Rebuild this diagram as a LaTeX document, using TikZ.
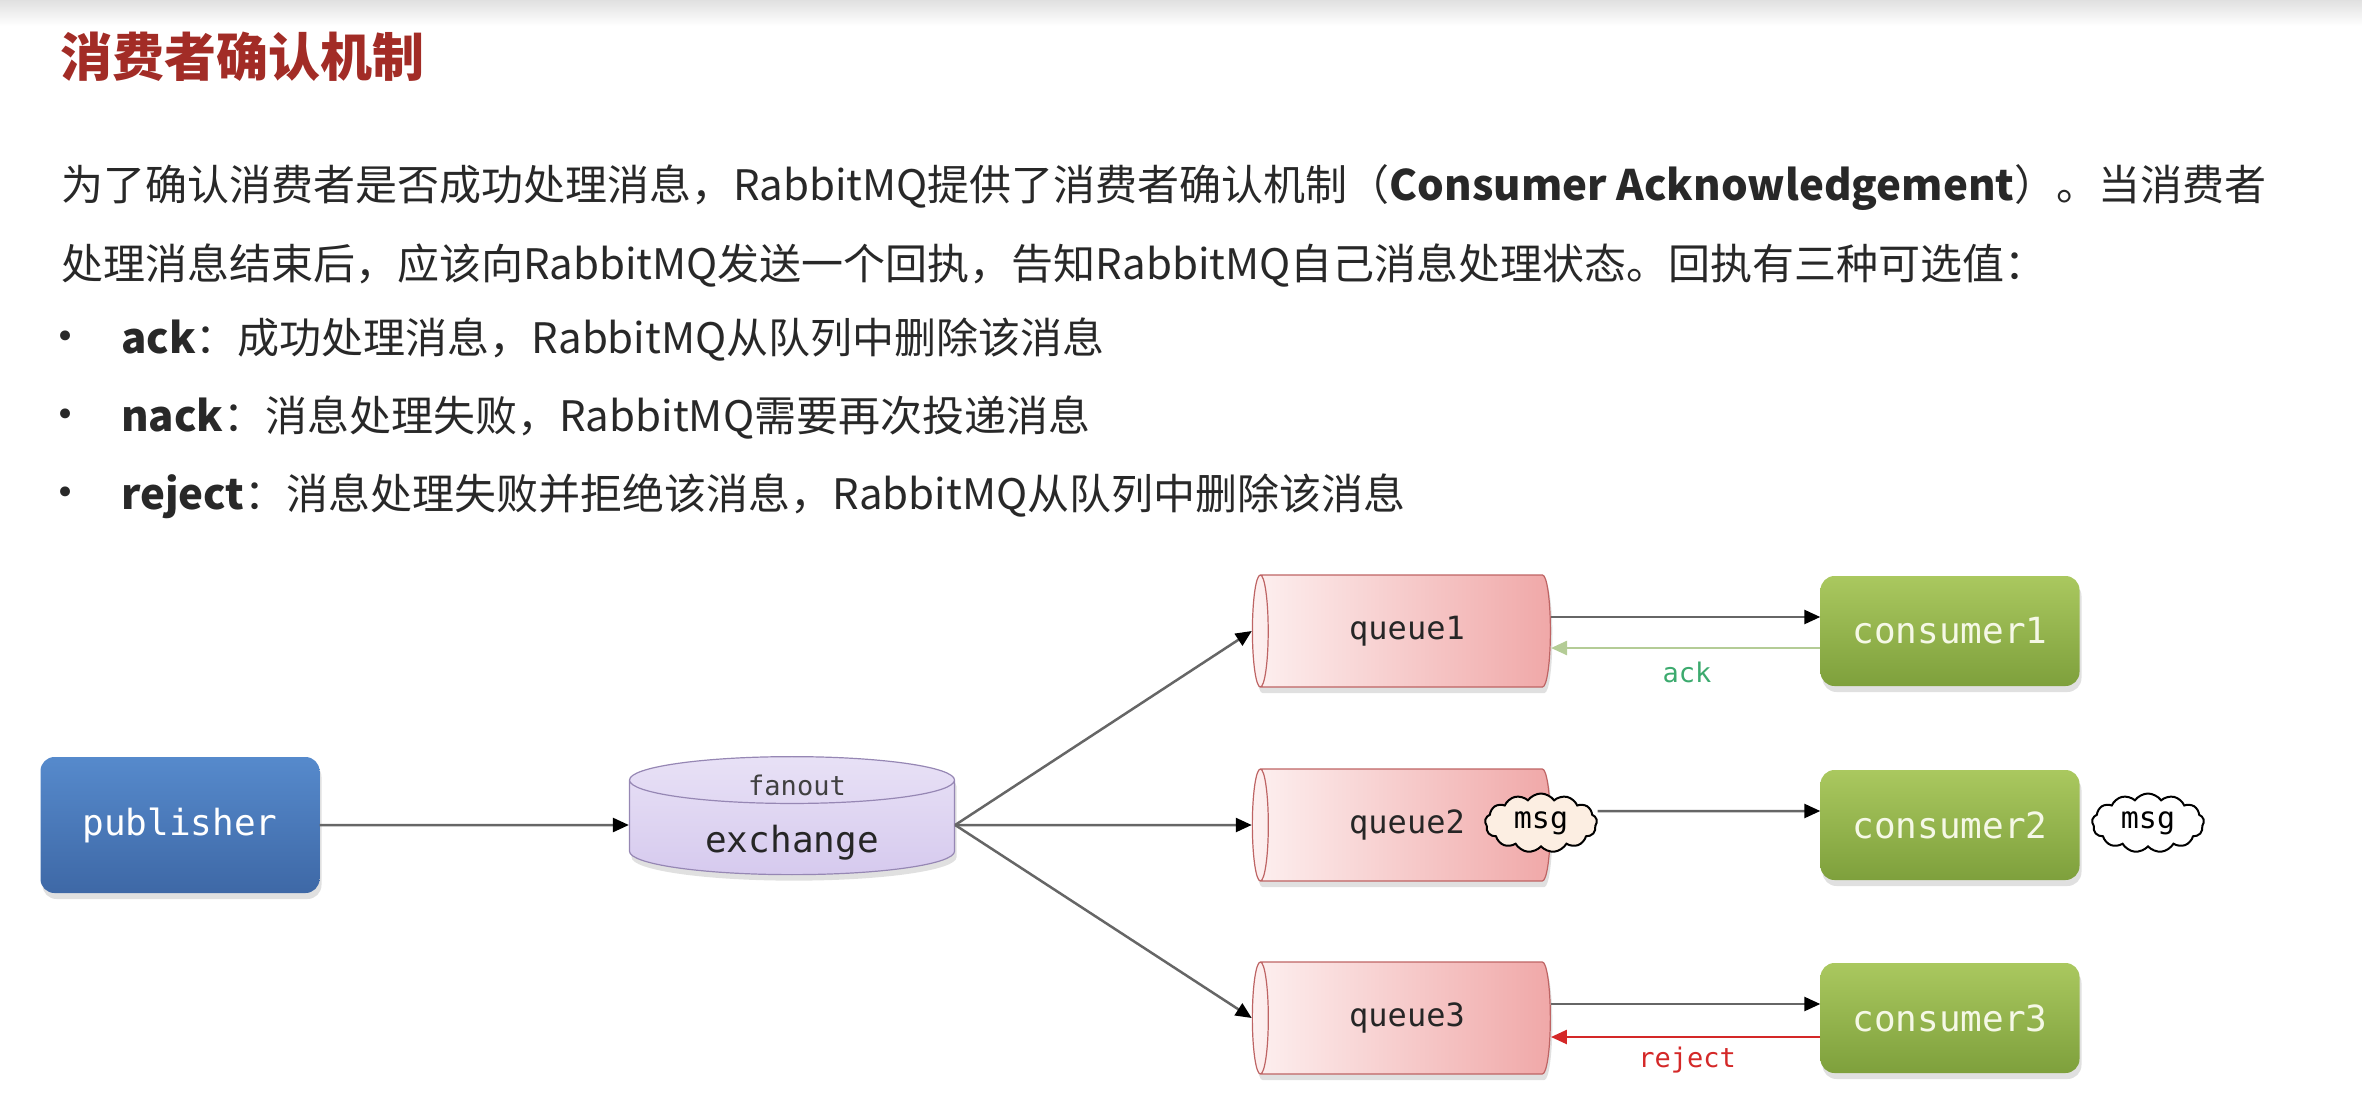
\documentclass[tikz,border=0pt]{standalone}
\usepackage{fontspec}
\setmainfont{Noto Sans CJK SC}
\setmonofont{DejaVu Sans Mono}
\newfontfamily\dotfont{DejaVu Sans}
\usetikzlibrary{shapes.geometric,shapes.symbols,shadows,arrows.meta}
\definecolor{titlered}{RGB}{162,44,38}
\definecolor{txt}{RGB}{40,40,40}
\definecolor{pubtop}{RGB}{86,138,204}
\definecolor{pubbot}{RGB}{62,104,166}
\definecolor{exfill}{RGB}{232,225,246}
\definecolor{exfilldark}{RGB}{214,202,238}
\definecolor{exline}{RGB}{150,135,180}
\definecolor{qleft}{RGB}{253,240,240}
\definecolor{qright}{RGB}{240,168,168}
\definecolor{qline}{RGB}{190,100,100}
\definecolor{contop}{RGB}{170,200,95}
\definecolor{conbot}{RGB}{126,160,60}
\definecolor{contxt}{RGB}{245,248,230}
\definecolor{ackgreen}{RGB}{180,204,150}
\definecolor{acktxt}{RGB}{60,170,110}
\definecolor{rejred}{RGB}{212,40,40}
\definecolor{msgfill}{RGB}{252,238,226}

\begin{document}
\begin{tikzpicture}[x=1pt,y=-1pt,
    txtline/.style={font=\fontsize{42}{50}\selectfont,text=txt,anchor=west,inner sep=0pt},
    dot/.style={font=\dotfont\fontsize{34}{40}\selectfont,text=txt,inner sep=0pt},
    shadowed/.style={drop shadow={shadow xshift=2pt,shadow yshift=-6pt,opacity=0.2,fill=black!60}},
    roundbox/.style={rectangle,rounded corners=14pt,minimum width=279pt,minimum height=136pt,shadowed,font=\ttfamily\fontsize{36}{40}\selectfont},
    queue/.style={cylinder,shape border rotate=180,aspect=0.43,minimum height=298pt,minimum width=112pt,draw=qline,line width=1.2pt,left color=qleft,right color=qright,shadowed,font=\ttfamily\fontsize{32}{36}\selectfont,text=black!85},
    consumer/.style={roundbox,minimum width=259pt,minimum height=110pt,top color=contop,bottom color=conbot,text=contxt},
    msg/.style={cloud,cloud puffs=13,cloud puff arc=110,aspect=1.9,minimum width=112pt,minimum height=59pt,inner sep=0pt,draw=black,line width=2pt,font=\ttfamily\fontsize{30}{34}\selectfont},
    flow/.style={line width=2.5pt,draw=black!60,-{Triangle[length=16pt,width=14pt,color=black]}},
    lbl/.style={font=\ttfamily\fontsize{27}{30}\selectfont}]
\useasboundingbox (0,0) rectangle (2362,1114);
\shade[top color=black!12,bottom color=white] (0,0) rectangle (2362,26);

\node[txtline,font=\bfseries\fontsize{52}{60}\selectfont,text=titlered] (title) at (60,57) {消费者确认机制};
\node[txtline] (p1) at (61,188) {为了确认消费者是否成功处理消息，RabbitMQ提供了消费者确认机制（\textbf{Consumer Acknowledgement}）。当消费者};
\node[txtline] (p2) at (61,266) {处理消息结束后，应该向RabbitMQ发送一个回执，告知RabbitMQ自己消息处理状态。回执有三种可选值：};
\node[dot] (d1) at (66,340) {•};
\node[txtline] (ack) at (121,340) {\textbf{ack}：成功处理消息，RabbitMQ从队列中删除该消息};
\node[dot] (d2) at (66,418) {•};
\node[txtline] (nack) at (121,418) {\textbf{nack}：消息处理失败，RabbitMQ需要再次投递消息};
\node[dot] (d3) at (66,496) {•};
\node[txtline] (rej) at (121,496) {\textbf{reject}：消息处理失败并拒绝该消息，RabbitMQ从队列中删除该消息};

\node[roundbox,top color=pubtop,bottom color=pubbot,text=white] (pub) at (180,825) {publisher};
\node[cylinder,shape border rotate=90,aspect=0.26,minimum width=325pt,minimum height=118pt,draw=exline,line width=1.2pt,top color=exfill,bottom color=exfilldark,shadowed,font=\ttfamily\fontsize{36}{40}\selectfont,text=black!85,text height=44pt,text depth=0pt] (exch) at (792,830) {exchange};
\node[lbl,text=black!75] (fan) at (797,785) {fanout};

\node[queue] (q1) at (1407,631) {queue1};
\node[queue] (q2) at (1407,825) {queue2};
\node[queue] (q3) at (1407,1018) {queue3};
\node[consumer] (c1) at (1950,631) {consumer1};
\node[consumer] (c2) at (1950,825) {consumer2};
\node[consumer] (c3) at (1950,1018) {consumer3};
\node[msg,fill=msgfill] (m1) at (1541,823) {msg};
\node[msg,fill=white] (m2) at (2148,823) {msg};

\draw[flow] (pub.east) -- ([yshift=5pt]exch.west);
\draw[flow] ([yshift=5pt]exch.east) -- (q1.west);
\draw[flow] ([yshift=5pt]exch.east) -- (q2.west);
\draw[flow] ([yshift=5pt]exch.east) -- (q3.west);
\draw[flow] ([yshift=14pt]q1.east) -- ([yshift=14pt]c1.west);
\draw[line width=2.5pt,draw=ackgreen,-{Triangle[length=16pt,width=14pt]}] ([yshift=-17pt]c1.west) -- ([yshift=-17pt]q1.east);
\node[lbl,text=acktxt] (ackl) at (1687,672) {ack};
\draw[flow] ([yshift=12pt]m1.east) -- ([yshift=14pt]c2.west);
\draw[flow] ([yshift=14pt]q3.east) -- ([yshift=14pt]c3.west);
\draw[line width=2.5pt,draw=rejred,-{Triangle[length=16pt,width=14pt]}] ([yshift=-19pt]c3.west) -- ([yshift=-19pt]q3.east);
\node[lbl,text=rejred] (rejl) at (1687,1060) {reject};
\end{tikzpicture}
\end{document}
